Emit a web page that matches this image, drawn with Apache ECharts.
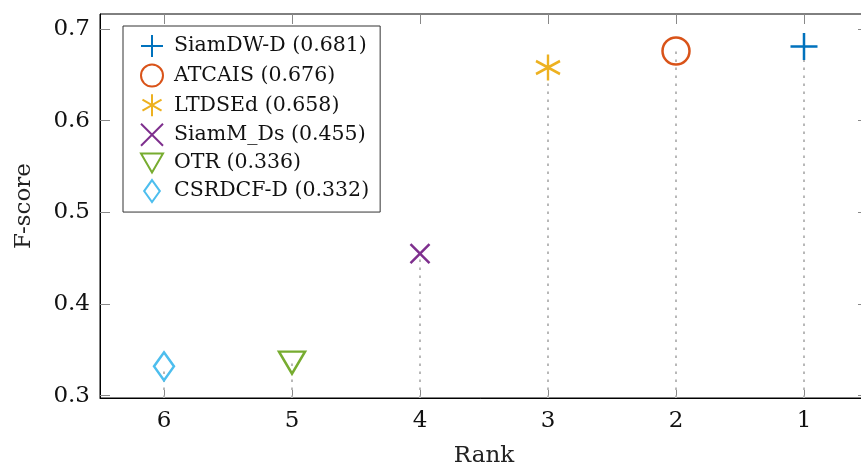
<!DOCTYPE html>
<html lang="en">
<head>
    <meta charset="UTF-8">
    <title>F-score by rank</title>
    <script src="https://cdn.jsdelivr.net/npm/echarts@6/dist/echarts.min.js"></script>
    <style>
        html, body { margin: 0; padding: 0; background: #fff; }
    </style>
</head>
<body>
<div id="main" style="width: 861px;height:473px;"></div>
<script type="text/javascript">
    // data
    var trackers = ['SiamDW-D', 'ATCAIS', 'LTDSEd', 'SiamM_Ds', 'OTR', 'CSRDCF-D'];
    var ranks = [1, 2, 3, 4, 5, 6];
    var scores = [0.681, 0.676, 0.658, 0.455, 0.336, 0.332];
    var yTicks = [0.3, 0.4, 0.5, 0.6, 0.7];
    var xTicks = [1, 2, 3, 4, 5, 6];

    var colors = ['#0072BD', '#D95319', '#EDB120', '#7E2F8E', '#77AC30', '#4DBEEE'];
    var symbols = [
        'path://M5,0L5,10M0,5L10,5',                                   // plus
        'circle',
        'path://M5,0L5,10M0.67,2.5L9.33,7.5M0.67,7.5L9.33,2.5',        // asterisk
        'path://M0,0L10,10M0,10L10,0',                                 // x
        'path://M0,0L10,0L5,8.66Z',                                    // triangle down
        'path://M5,0L10,7L5,14L0,7Z'                                   // diamond
    ];
    var sizes = [[27, 27], [27, 27], [24, 26], [19, 19], [26, 22], [20, 28]];

    var yMin = 0.2975, yMax = 0.7164;
    var font = 'DejaVu Serif';

    var myChart = echarts.init(document.getElementById('main'));

    var series = trackers.map(function (name, i) {
        return {
            name: name + ' (' + scores[i].toFixed(3) + ')',
            type: 'scatter',
            data: [[ranks[i], scores[i]]],
            symbol: symbols[i],
            symbolSize: sizes[i],
            itemStyle: {
                color: 'rgba(0,0,0,0)',
                borderColor: colors[i],
                borderWidth: 2.5,
                opacity: 1
            },
            z: 5,
            markLine: {
                silent: true,
                symbol: 'none',
                label: {show: false},
                lineStyle: {color: '#b8b8b8', type: [2.5, 5.5], width: 2},
                z: 1,
                data: [[{coord: [ranks[i], yMin]}, {coord: [ranks[i], scores[i]]}]]
            }
        };
    });

    var tickStyle = {show: true, inside: true, length: 10, lineStyle: {color: '#888', width: 1}};

    myChart.setOption({
        animation: false,
        textStyle: {fontFamily: font},
        grid: {
            left: 100, top: 14, width: 768, height: 384,
            outerBoundsMode: 'none',
            show: true, borderColor: '#000', borderWidth: 1
        },
        legend: {
            orient: 'vertical',
            left: 123, top: 26,
            padding: [8, 11, 9, 17],
            itemWidth: 22, itemHeight: 22, itemGap: 5.6,
            borderColor: '#333', borderWidth: 1,
            backgroundColor: '#fff',
            textStyle: {fontFamily: font, fontSize: 20.5, color: '#111', padding: [0, 0, 0, 6]},
            data: series.map(function (s) { return s.name; })
        },
        xAxis: [{
            type: 'value',
            min: 0.5, max: 6.5,
            inverse: true,
            name: 'Rank',
            nameLocation: 'middle',
            nameGap: 47,
            nameTextStyle: {fontFamily: font, fontSize: 23, color: '#222'},
            axisLine: {show: true, onZero: false, lineStyle: {color: '#000', width: 1}},
            axisTick: Object.assign({customValues: xTicks}, tickStyle),
            axisLabel: {customValues: xTicks, fontFamily: font, fontSize: 23, color: '#111', margin: 12},
            splitLine: {show: false}
        }, {
            type: 'value',
            position: 'top',
            min: 0.5, max: 6.5,
            inverse: true,
            axisLine: {show: false},
            axisTick: Object.assign({customValues: xTicks}, tickStyle),
            axisLabel: {show: false},
            splitLine: {show: false}
        }],
        yAxis: [{
            type: 'value',
            min: yMin, max: yMax,
            name: 'F-score',
            nameLocation: 'middle',
            nameGap: 64,
            nameTextStyle: {fontFamily: font, fontSize: 23, color: '#222'},
            axisLine: {show: true, onZero: false, lineStyle: {color: '#000', width: 1}},
            axisTick: Object.assign({customValues: yTicks}, tickStyle),
            axisLabel: {
                customValues: yTicks,
                fontFamily: font, fontSize: 23, color: '#111', margin: 10,
                formatter: function (v) { return v.toFixed(1); }
            },
            splitLine: {show: false}
        }, {
            type: 'value',
            position: 'right',
            min: yMin, max: yMax,
            axisLine: {show: false},
            axisTick: Object.assign({customValues: yTicks}, tickStyle),
            axisLabel: {show: false},
            splitLine: {show: false}
        }],
        series: series
    });
</script>
</body>
</html>
